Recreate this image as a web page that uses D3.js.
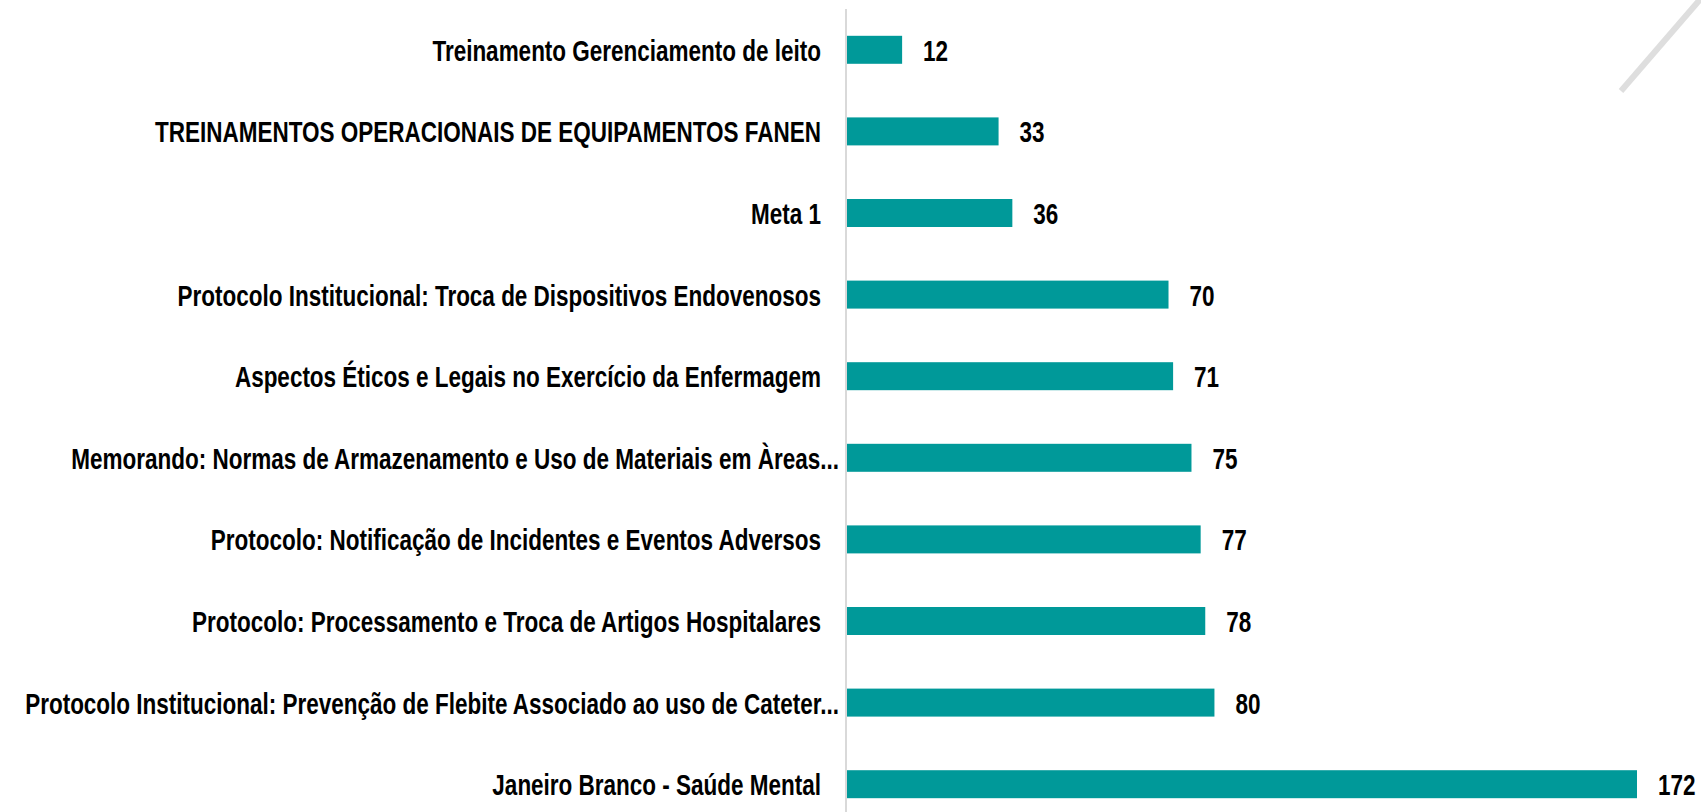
<!DOCTYPE html>
<html>
<head>
<meta charset="utf-8">
<script src="https://cdn.jsdelivr.net/npm/d3@7"></script>
<style>
  html, body { margin: 0; padding: 0; background: #fff; }
  svg { display: block; }
  text { font-family: "Liberation Sans Narrow", "Liberation Sans", Arial, sans-serif; font-weight: bold; fill: #000; }
</style>
</head>
<body>
<script>
// Participation per training / protocol
const categories = [
  "Treinamento Gerenciamento de leito",
  "TREINAMENTOS OPERACIONAIS DE EQUIPAMENTOS FANEN",
  "Meta 1",
  "Protocolo Institucional: Troca de Dispositivos Endovenosos",
  "Aspectos Éticos e Legais no Exercício da Enfermagem",
  "Memorando: Normas de Armazenamento e Uso de Materiais em Àreas...",
  "Protocolo: Notificação de Incidentes e Eventos Adversos",
  "Protocolo: Processamento e Troca de Artigos Hospitalares",
  "Protocolo Institucional: Prevenção de Flebite Associado ao uso de Cateter...",
  "Janeiro Branco - Saúde Mental"
];
const values = [12, 33, 36, 70, 71, 75, 77, 78, 80, 172];

const W = 1701, H = 812;
const axisX = 847;

const svg = d3.select("body").append("svg")
  .attr("width", W).attr("height", H);

const x = d3.scaleLinear().domain([0, 172]).range([axisX, 1637]);
const y = d3.scaleBand().domain(categories).range([9, 825])
  .paddingInner(0.657).paddingOuter(0.3285);

// decorative diagonal stroke in the top-right corner
svg.append("line")
  .attr("x1", 1703).attr("y1", -4).attr("x2", 1621).attr("y2", 91)
  .attr("stroke", "#dedede").attr("stroke-width", 6);

// bars
svg.append("g").selectAll("rect")
  .data(values)
  .join("rect")
  .attr("x", x(0))
  .attr("y", (d, i) => y(categories[i]))
  .attr("width", d => x(d) - x(0))
  .attr("height", y.bandwidth())
  .attr("fill", "#009999");

// vertical category axis line
svg.append("line")
  .attr("x1", axisX - 1).attr("x2", axisX - 1)
  .attr("y1", 9).attr("y2", H)
  .attr("stroke", "#d9d9d9").attr("stroke-width", 2);

const fontSize = 30;
const sx = 0.75; // horizontal condensing of the text
const capShift = 11;

// category labels (truncated ones sit closer to the axis)
const labels = svg.append("g");
categories.forEach((c, i) => {
  const cy = y(c) + y.bandwidth() / 2 + capShift;
  const right = c.endsWith("...") ? axisX - 8 : axisX - 26;
  labels.append("text")
    .attr("transform", `translate(${right},${cy}) scale(${sx},1)`)
    .attr("text-anchor", "end")
    .attr("font-size", fontSize)
    .text(c);
});

// value labels
const vlabels = svg.append("g");
values.forEach((v, i) => {
  const cy = y(categories[i]) + y.bandwidth() / 2 + capShift;
  vlabels.append("text")
    .attr("transform", `translate(${x(v) + 21},${cy}) scale(${sx},1)`)
    .attr("font-size", fontSize)
    .text(v);
});
</script>
</body>
</html>
